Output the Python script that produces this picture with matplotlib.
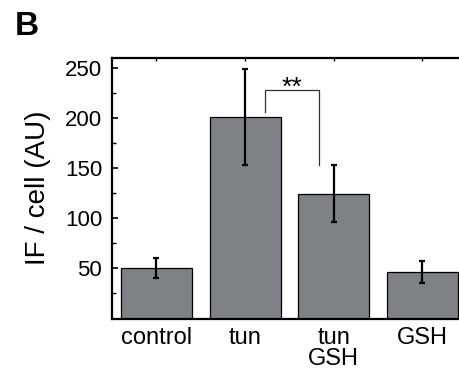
import matplotlib
matplotlib.use("Agg")
import matplotlib.pyplot as plt
from matplotlib.ticker import FixedLocator

categories = ["control", "tun", "tun\nGSH", "GSH"]
values = [50.5, 201.0, 124.5, 46.0]
errors = [10.0, 48.0, 28.5, 11.0]
yticks = [50, 100, 150, 200, 250]
yminor = [25, 75, 125, 175, 225]
sig_label = "**"
sig_left_x, sig_right_x = 1.22, 1.83
sig_top, sig_left_bottom, sig_right_bottom = 227.5, 205.5, 153.0

plt.rcParams['font.family'] = ['Liberation Sans', 'DejaVu Sans']

fig = plt.figure(figsize=(4.59, 3.72), dpi=100)
ax = fig.add_axes([112/459, 53.5/372, 1 - 112/459, 261/372])

x = list(range(len(categories)))
ax.bar(x, values, width=0.8, color="#808184", edgecolor="black", linewidth=0.9, zorder=2)
ax.errorbar(x, values, yerr=errors, fmt="none", ecolor="black", elinewidth=1.6,
            capsize=2.5, capthick=1.6, zorder=3)

# significance bracket
ax.plot([sig_left_x, sig_left_x, sig_right_x, sig_right_x],
        [sig_left_bottom, sig_top, sig_top, sig_right_bottom],
        color="#333333", linewidth=0.9, zorder=4, clip_on=False)
ax.text((sig_left_x + sig_right_x) / 2, sig_top - 4.5, sig_label, ha="center", va="baseline",
        fontsize=19, zorder=5)

ax.set_xlim(-0.5, 3.412)
ax.set_ylim(0, 260)
ax.set_xticks(x)
ax.set_xticklabels(categories, fontsize=17, linespacing=0.95)
ax.yaxis.set_major_locator(FixedLocator(yticks))
ax.yaxis.set_minor_locator(FixedLocator(yminor))
ax.set_yticklabels([str(v) for v in yticks], fontsize=16)

ax.tick_params(axis="y", which="major", direction="in", length=4.5, width=1.2, pad=7)
ax.tick_params(axis="y", which="minor", direction="in", length=3, width=1.0)
ax.tick_params(axis="x", which="major", bottom=False, top=True, direction="in",
               length=2, width=1.0, pad=6)
ax.tick_params(axis="x", which="minor", bottom=False, top=False)

for s in ["left", "bottom", "top"]:
    ax.spines[s].set_linewidth(1.6)
ax.spines["right"].set_visible(False)

ax.set_ylabel("IF / cell (AU)", fontsize=20, labelpad=10)

fig.text(15/459, 1 - 11/372, "B", fontsize=24, fontweight="bold", ha="left", va="top")

fig.savefig("out.png", dpi=100)
